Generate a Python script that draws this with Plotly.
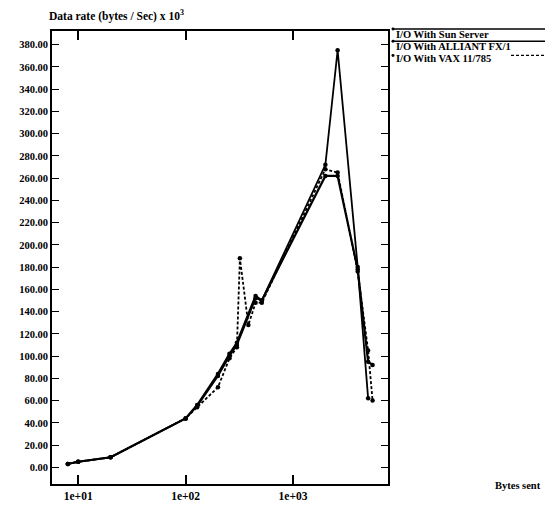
import plotly.graph_objects as go

# ---- data ----
sun_x = [8, 10, 20, 100, 128, 200, 256, 300, 448, 512, 2000, 2600, 4000, 5000, 5500]
sun_y = [3, 5, 9, 44, 56, 84, 102, 112, 154, 150, 262, 262, 178, 95, 92]

alliant_x = [8, 10, 20, 100, 128, 200, 256, 300, 448, 512, 2000, 2600, 4000, 5000]
alliant_y = [3, 5, 9, 44, 55, 82, 100, 110, 152, 150, 272, 375, 180, 62]

vax_x = [8, 10, 20, 100, 128, 200, 256, 300, 320, 384, 448, 512, 2000, 2600, 4000, 5000, 5500]
vax_y = [3, 5, 9, 44, 54, 72, 98, 108, 188, 128, 148, 148, 268, 265, 176, 105, 60]

series_names = ["I/O With Sun Server", "I/O With ALLIANT FX/1", "I/O With VAX 11/785"]
x_tick_vals = [10, 100, 1000]
x_tick_text = ["1e+01", "1e+02", "1e+03"]

W, H = 546, 514
ML, MR, MT, MB = 52, 158, 31, 20
PW, PH = W - ML - MR, H - MT - MB

def px(x):
    return (x - ML) / PW

def py(y):
    return (H - MB - y) / PH

FONT = "Liberation Serif"

fig = go.Figure()
styles = [
    dict(color="black", width=2.2, dash="solid"),
    dict(color="black", width=1.8, dash="solid"),
    dict(color="black", width=1.8, dash="3px,2px"),
]
for (xs, ys), name, st in zip([(sun_x, sun_y), (alliant_x, alliant_y), (vax_x, vax_y)], series_names, styles):
    fig.add_trace(go.Scatter(
        x=xs, y=ys, mode="lines+markers", name=name,
        line=st, marker=dict(size=4.5, color="black"), showlegend=False,
    ))

# custom legend (text with sample line, as in the reference)
leg_rows = [
    (series_names[0], 34.5, 29, 393, "solid"),
    (series_names[1], 47, 41.5, 393, "solid"),
    (series_names[2], 59.5, 56, 511, "dot"),
]
shapes = []
annotations = []
for name, ty, ly, lx0, dash in leg_rows:
    annotations.append(dict(
        x=px(394), y=py(ty), xref="paper", yref="paper", text=name,
        showarrow=False, xanchor="left", yanchor="middle",
        font=dict(family=FONT, size=10.5, color="black", weight="bold"),
    ))
    shapes.append(dict(
        type="line", xref="paper", yref="paper",
        x0=px(lx0), x1=px(545), y0=py(ly), y1=py(ly),
        line=dict(color="black", width=1.6 if dash == "solid" else 1.3,
                  dash="solid" if dash == "solid" else "3px,2px"),
    ))
    shapes.append(dict(
        type="circle", xref="paper", yref="paper",
        x0=px(391.5), x1=px(394.5), y0=py(ly - 1.5), y1=py(ly + 1.5),
        fillcolor="black", line=dict(color="black", width=0),
    ))

annotations.append(dict(
    x=px(47), y=py(15), xref="paper", yref="paper",
    text="Data rate (bytes / Sec) x 10<sup>3</sup>", showarrow=False,
    xanchor="left", yanchor="middle",
    font=dict(family=FONT, size=11.5, color="black", weight="bold"),
))
annotations.append(dict(
    x=px(543), y=py(496), xref="paper", yref="paper",
    text="Bytes sent", showarrow=False, xanchor="right", yanchor="middle",
    font=dict(family=FONT, size=10.5, color="black", weight="bold"),
))

fig.update_layout(
    width=W, height=H, autosize=False,
    margin=dict(l=ML, r=MR, t=MT, b=MB),
    paper_bgcolor="white", plot_bgcolor="white",
    shapes=shapes, annotations=annotations,
    font=dict(family=FONT, size=11, color="black"),
)
fig.update_xaxes(
    type="log", range=[0.756, 3.884],
    tickvals=x_tick_vals, ticktext=x_tick_text,
    ticks="inside", ticklen=9, tickwidth=1.6, tickcolor="black",
    showline=True, linecolor="black", linewidth=1.8, mirror="ticks",
    showgrid=False, zeroline=False,
    tickfont=dict(family=FONT, size=11.5, color="black", weight="bold"),
)
fig.update_yaxes(
    range=[-15, 392.3], dtick=20, tick0=0, tickformat=".2f",
    ticks="inside", ticklen=7, tickwidth=1.4, tickcolor="black",
    showline=True, linecolor="black", linewidth=1.8, mirror="ticks",
    showgrid=False, zeroline=False,
    tickfont=dict(family=FONT, size=10.5, color="black", weight="bold"),
)

fig.write_html(
    "out.html",
    config={"displayModeBar": False},
    post_script="document.body.style.margin='0';document.body.style.padding='0';"
                "document.body.style.overflow='hidden';",
)
